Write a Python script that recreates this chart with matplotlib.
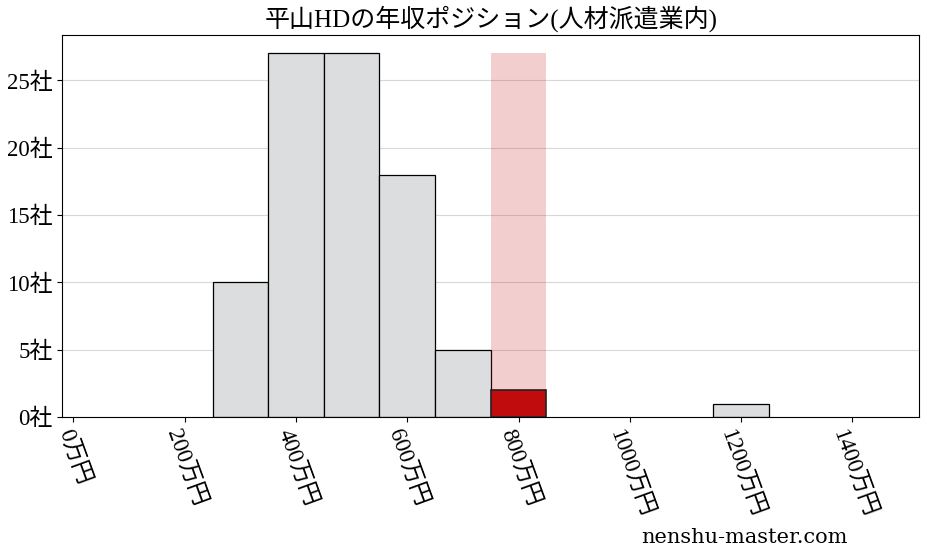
import matplotlib
matplotlib.use("Agg")
import matplotlib.pyplot as plt

plt.rcParams['font.family'] = ['Liberation Serif', 'Noto Sans CJK JP', 'DejaVu Sans']

title = "平山HDの年収ポジション(人材派遣業内)"
bin_left = [250, 350, 450, 550, 650, 750, 850, 950, 1050, 1150]
counts = [10, 27, 27, 18, 5, 2, 0, 0, 0, 1]
bin_width = 100
highlight_index = 5
x_ticks = [0, 200, 400, 600, 800, 1000, 1200, 1400]
x_tick_labels = [f"{v}万円" for v in x_ticks]
y_ticks = [0, 5, 10, 15, 20, 25]
y_tick_labels = [f"{v}社" for v in y_ticks]
watermark = "nenshu-master.com"

fig = plt.figure(figsize=(9.28, 5.57), dpi=100)
ax = fig.add_axes([0.0671, 0.2513, 0.9235, 0.6853])

gray_left = [b for i, b in enumerate(bin_left) if i != highlight_index and counts[i] > 0]
gray_counts = [c for i, c in enumerate(counts) if i != highlight_index and c > 0]
ax.bar(gray_left, gray_counts, width=bin_width, align='edge', color='#dcdddf',
       edgecolor='black', linewidth=0.9, zorder=2)

# highlight background
ax.bar([bin_left[highlight_index]], [max(counts)], width=bin_width, align='edge',
       color='#c00c0c', alpha=0.2, linewidth=0, zorder=2)
ax.bar([bin_left[highlight_index]], [counts[highlight_index]], width=bin_width, align='edge',
       color='#c00c0c', edgecolor='#222222', linewidth=1.2, zorder=3)

ax.set_xlim(-20, 1520)
ax.set_ylim(0, max(counts) * 1.05)
ax.set_xticks(x_ticks)
ax.set_xticklabels(x_tick_labels, rotation=-70, fontsize=16.5)
ax.set_yticks(y_ticks)
ax.set_yticklabels(y_tick_labels, fontsize=16.5)
ax.yaxis.grid(True, color='#d8d8d8', linewidth=0.8, zorder=0)
ax.set_axisbelow(True)
ax.set_title(title, fontsize=18, pad=6)

fig.text(0.914, 0.035, watermark, fontsize=15, ha='right', va='center',
         family=['DejaVu Serif'])

fig.savefig("out.png", dpi=100)
